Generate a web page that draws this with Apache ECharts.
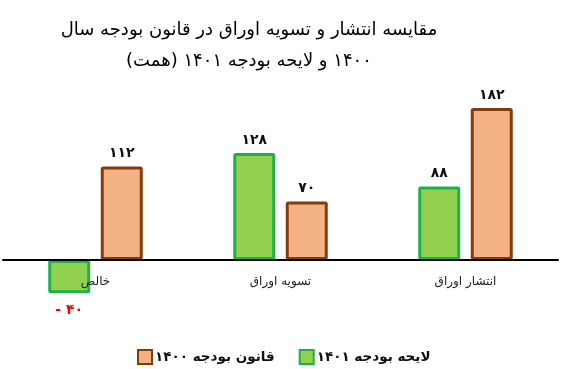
<!DOCTYPE html>
<html>
<head>
<meta charset="utf-8">
<script src="https://cdn.jsdelivr.net/npm/echarts@6/dist/echarts.min.js"></script>
<style>html,body{margin:0;padding:0;background:#fff}#c{width:588px;height:369px}</style>
</head>
<body>
<div id="c"></div>
<script>
const categories = ["خالص", "تسویه اوراق", "انتشار اوراق"];
const seriesNames = ["لایحه بودجه ۱۴۰۱", "قانون بودجه ۱۴۰۰"];
const bill1401 = [-40, 128, 88];
const law1400 = [112, 70, 182];
const titleLine1 = "مقایسه انتشار و تسویه اوراق در قانون بودجه سال";
const titleLine2 = "۱۴۰۰ و لایحه بودجه ۱۴۰۱ (همت)";

const fa = n => String(Math.abs(n)).replace(/\d/g, d => "۰۱۲۳۴۵۶۷۸۹"[d]);
const fmt = p => (p.value < 0 ? "- " : "") + fa(p.value);
const FONT = "DejaVu Sans";

function mkData(arr) {
  return arr.map(v => v < 0 ? {value: v, label: {position: "bottom", color: "#ff0000", distance: 10}} : v);
}

const chart = echarts.init(document.getElementById("c"), null, {renderer: "canvas"});
chart.setOption({
  animation: false,
  title: {
    text: titleLine1 + "\n\u202B" + titleLine2 + "\u202C",
    left: 249,
    top: 15,
    textAlign: "center",
    padding: 0,
    textStyle: {fontFamily: FONT, fontSize: 18, fontWeight: "normal", color: "#000", lineHeight: 31}
  },
  legend: {
    data: [seriesNames[1], seriesNames[0]],
    left: 132,
    top: 344,
    itemWidth: 14,
    itemHeight: 14,
    itemGap: 24,
    icon: "rect",
    textStyle: {fontFamily: FONT, fontSize: 13.5, fontWeight: "bold", color: "#111", padding: [0, 0, 0, -2]}
  },
  grid: {left: 3, right: 30, top: 93, bottom: 59, containLabel: false},
  xAxis: {
    type: "category",
    data: categories,
    z: 5,
    axisLine: {lineStyle: {color: "#000", width: 2}},
    axisTick: {show: false},
    axisLabel: {fontFamily: FONT, fontSize: 12, color: "#222", margin: -34}
  },
  yAxis: {type: "value", min: -60, max: 200, show: false, splitLine: {show: false}},
  series: [
    {
      name: seriesNames[0], type: "bar", data: mkData(bill1401),
      barWidth: 42, barGap: "25%",
      itemStyle: {color: "#92d050", borderColor: "#1db04b", borderWidth: 3, borderRadius: 1},
      label: {show: true, position: "top", distance: 6, formatter: fmt, fontFamily: FONT, fontSize: 14, fontWeight: "bold", color: "#111"}
    },
    {
      name: seriesNames[1], type: "bar", data: mkData(law1400),
      barWidth: 42,
      itemStyle: {color: "#f4b183", borderColor: "#843c0c", borderWidth: 3, borderRadius: 1},
      label: {show: true, position: "top", distance: 6, formatter: fmt, fontFamily: FONT, fontSize: 14, fontWeight: "bold", color: "#111"}
    }
  ]
});
</script>
</body>
</html>
